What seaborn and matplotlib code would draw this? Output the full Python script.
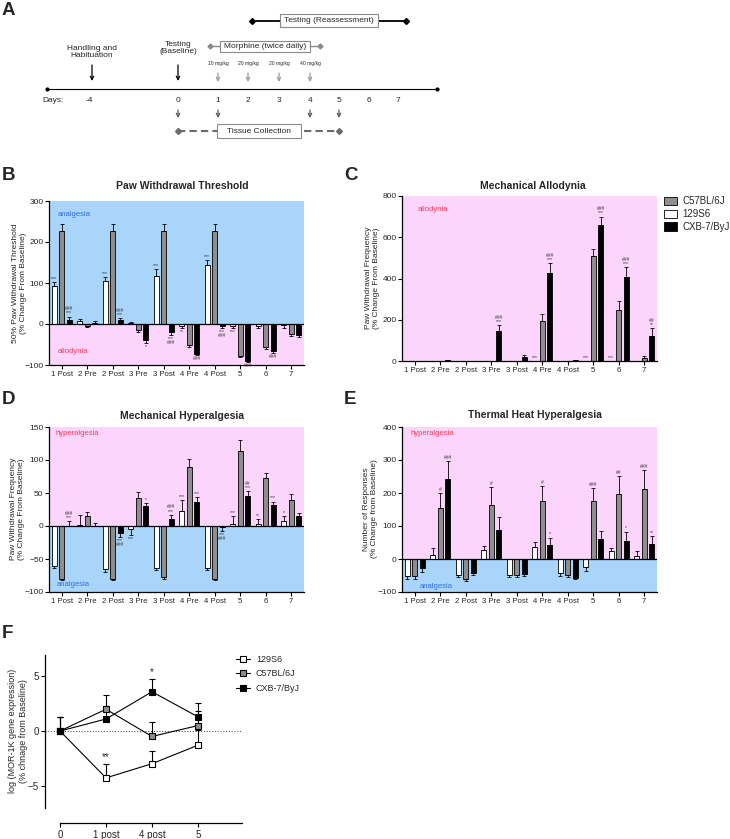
import numpy as np
import pandas as pd
import matplotlib
matplotlib.use("Agg")
import matplotlib.pyplot as plt
from matplotlib.patches import Patch, Rectangle
import seaborn as sns

sns.set_theme(style="ticks")
plt.rcParams["font.family"] = ["Liberation Sans", "DejaVu Sans"]

W, H = 730, 839

# ---------------- data ----------------
groups = ["1 Post", "2 Pre", "2 Post", "3 Pre", "3 Post", "4 Pre", "4 Post", "5", "6", "7"]
strains = ["129S6", "C57BL/6J", "CXB-7/ByJ"]
strain_colors = {"129S6": "white", "C57BL/6J": "#8e8e8e", "CXB-7/ByJ": "black"}

# B - paw withdrawal threshold
pwt_129 = [93, 7, 104, 2, 118, -5, 143, -5, -5, -3]
pwt_c57 = [228, -5, 228, -15, 228, -52, 228, -78, -57, -25]
pwt_cxb = [10, 3, 10, -40, -20, -72, -5, -90, -67, -27]
pwt_129_err = [10, 6, 10, 2, 15, 5, 12, 5, 5, 6]
pwt_c57_err = [15, 3, 15, 5, 15, 4, 15, 3, 4, 4]
pwt_cxb_err = [8, 4, 4, 7, 6, 3, 5, 3, 4, 4]

# C - mechanical allodynia
ma_129 = [0, 0, 0, 0, 0, 0, 0, 0, 0, 0]
ma_c57 = [0, 0, 0, 0, 0, 195, 0, 510, 248, 15]
ma_cxb = [0, 3, 0, 145, 20, 425, 3, 660, 405, 120]
ma_129_err = [0, 0, 0, 0, 0, 0, 0, 0, 0, 0]
ma_c57_err = [0, 0, 0, 0, 0, 32, 0, 35, 45, 8]
ma_cxb_err = [0, 2, 0, 30, 8, 50, 2, 40, 50, 40]

# D - mechanical hyperalgesia
mh_129 = [-60, 1, -65, -5, -63, 23, -63, 3, 3, 7]
mh_c57 = [-80, 15, -80, 43, -77, 90, -80, 113, 72, 40]
mh_cxb = [0, 0, -10, 30, 10, 37, -2, 46, 32, 15]
mh_129_err = [4, 16, 4, 8, 4, 16, 4, 12, 8, 8]
mh_c57_err = [2, 6, 2, 8, 3, 12, 2, 17, 8, 8]
mh_cxb_err = [7, 5, 6, 5, 7, 7, 5, 7, 5, 5]

# E - thermal heat hyperalgesia
th_129 = [-52, 12, -48, 27, -48, 35, -42, -25, 24, 9]
th_c57 = [-52, 155, -60, 163, -48, 177, -47, 176, 197, 212]
th_cxb = [-28, 242, -42, 88, -45, 42, -58, 61, 55, 45]
th_129_err = [8, 20, 8, 12, 8, 18, 8, 10, 10, 14]
th_c57_err = [8, 45, 8, 55, 8, 45, 8, 40, 55, 58]
th_cxb_err = [10, 55, 6, 38, 6, 23, 3, 25, 28, 25]

# significance marks: (group index, strain index, text)
notes_B = [(0, 0, "***"), (0, 2, "###\n***"), (2, 0, "***"), (2, 2, "###\n***"), (3, 2, "*"),
           (4, 0, "***"), (4, 2, "***\n###"), (5, 0, "**"), (5, 2, "###"), (6, 0, "***"),
           (6, 2, "***\n###"), (7, 0, "***"), (7, 2, "###"), (8, 2, "###")]
notes_C = [(3, 2, "###\n***"), (5, 0, "***"), (5, 2, "###\n***"), (7, 0, "***"), (7, 2, "###\n***"),
           (8, 0, "***"), (8, 2, "###\n***"), (9, 2, "##\n**")]
notes_D = [(0, 2, "###\n***"), (2, 2, "***\n###"), (3, 0, "***"), (3, 2, "*"), (4, 2, "###\n***"),
           (5, 0, "***"), (5, 2, "***"), (6, 2, "***\n###"), (7, 0, "***"), (7, 2, "##\n***"),
           (8, 0, "**"), (8, 2, "***"), (9, 0, "*")]
notes_E = [(1, 1, "#"), (1, 2, "###"), (3, 1, "#"), (5, 1, "#"), (5, 2, "*"), (7, 1, "###"),
           (8, 1, "##"), (8, 2, "*"), (9, 1, "###"), (9, 2, "**")]

# F - MOR-1K expression
f_days = ["0", "1 post", "4 post", "5"]
f_129 = [0, -4.3, -3.0, -1.3]
f_c57 = [0, 2.0, -0.5, 0.5]
f_cxb = [0, 1.1, 3.6, 1.3]
f_129_err = [1.3, 1.3, 1.2, 1.4]
f_c57_err = [1.3, 1.3, 1.3, 1.3]
f_cxb_err = [1.3, 1.2, 1.2, 1.3]

# timeline
day_labels = ["-4", "0", "1", "2", "3", "4", "5", "6", "7"]
doses = ["10 mg/kg", "20 mg/kg", "20 mg/kg", "40 mg/kg"]

BLUE = "#a9d5fa"
PINK = "#fcd5fc"
BLUE_TXT = "#2f6fe0"
RED_TXT = "#f0405a"

fig = plt.figure(figsize=(W / 100, H / 100), dpi=100)


def px_box(left, top, right, bottom):
    return [left / W, 1 - bottom / H, (right - left) / W, (bottom - top) / H]


def fig_text(x, y, s, **kw):
    fig.text(x / W, 1 - y / H, s, **kw)


# ---------------- A: timeline ----------------
axA = fig.add_axes([0, 1 - 165 / H, 1, 165 / H])
axA.set_xlim(0, W)
axA.set_ylim(165, 0)
axA.axis("off")

day_px = [89, 178, 218, 248, 279, 310, 339, 369, 398]
axA.plot([47, 437], [89, 89], color="black", lw=0.8, marker="o", ms=2, mfc="black")
axA.text(42, 100, "Days:", ha="left", va="center", fontsize=6)
for x, lab in zip(day_px, day_labels):
    axA.text(x, 100, lab, ha="center", va="center", fontsize=6)


def arrow(x, y0, y1, color):
    axA.annotate("", xy=(x, y1), xytext=(x, y0),
                 arrowprops=dict(arrowstyle="->", color=color, lw=0.9,
                                 shrinkA=0, shrinkB=0, mutation_scale=6))


def label_box(x0, y0, x1, y1, text):
    axA.add_patch(Rectangle((x0, y0), x1 - x0, y1 - y0, facecolor="white",
                            edgecolor="#8a8a8a", lw=0.8, zorder=3))
    axA.text((x0 + x1) / 2, (y0 + y1) / 2 + 0.5, text, ha="center", va="center",
             fontsize=6, zorder=4)


axA.text(92, 52, "Handling and\nHabituation", ha="center", va="center", fontsize=6, linespacing=1.1)
axA.text(178, 48, "Testing\n(Baseline)", ha="center", va="center", fontsize=6, linespacing=1.1)
arrow(92, 65, 81, "black")
arrow(178, 65, 81, "black")

# morphine
axA.plot([210, 320], [46, 46], color="#8a8a8a", lw=1.0, marker="D", ms=2.5)
label_box(220, 41, 310, 52, "Morphine (twice daily)")
for x, d in zip(day_px[2:6], doses):
    axA.text(x, 63, d, ha="center", va="center", fontsize=3.6)
    arrow(x, 73, 82, "#9a9a9a")

# reassessment
axA.plot([252, 406], [21, 21], color="black", lw=1.3, marker="D", ms=3)
label_box(280, 14, 378, 27, "Testing (Reassessment)")

# tissue collection
for x in [day_px[1], day_px[2], day_px[5], day_px[6]]:
    arrow(x, 110, 118, "#555555")
axA.plot([178, 339], [131, 131], color="#6a6a6a", lw=1.5, ls=(0, (3.5, 2)), marker="D", ms=3)
label_box(217, 124, 301, 138, "Tissue Collection")


# ---------------- B-E: bar panels ----------------
def bar_panel(rect, vals, errs, ylim, ystep, bands, notes, tags):
    ax = fig.add_axes(rect)
    df = pd.DataFrame({"group": np.tile(groups, len(strains)),
                       "strain": np.repeat(strains, len(groups)),
                       "value": np.concatenate(vals)})
    sns.barplot(data=df, x="group", y="value", hue="strain", order=groups, hue_order=strains,
                palette=strain_colors, saturation=1, width=0.88, gap=0.3,
                edgecolor="black", linewidth=0.6, errorbar=None, legend=False,
                ax=ax, zorder=2)
    for y0, y1, c in bands:
        ax.axhspan(y0, y1, color=c, lw=0, zorder=0)
    for cont, ev in zip(ax.containers, errs):
        for bar, e in zip(cont, ev):
            x = bar.get_x() + bar.get_width() / 2
            y = bar.get_height()
            if e <= 0:
                continue
            yerr = [[0], [e]] if y >= 0 else [[e], [0]]
            ax.errorbar([x], [y], yerr=yerr, fmt="none", ecolor="black",
                        elinewidth=0.6, capsize=1.7, capthick=0.6, zorder=2.5)
    for g, s, txt in notes:
        bar = ax.containers[s][g]
        x = bar.get_x() + bar.get_width() / 2
        y = bar.get_height()
        e = errs[s][g]
        if y >= 0:
            ax.annotate(txt, (x, y + e), xytext=(0, 0.8), textcoords="offset points",
                        ha="center", va="bottom", fontsize=3.6, color="#333333",
                        linespacing=0.8, zorder=4)
        else:
            ax.annotate(txt, (x, y - e), xytext=(0, -0.8), textcoords="offset points",
                        ha="center", va="top", fontsize=3.6, color="#333333",
                        linespacing=0.8, zorder=4)
    for x, y, txt, c in tags:
        ax.text(x, y, txt, ha="left", va="center", fontsize=5.5, color=c, zorder=4)
    if ylim[0] < 0:
        ax.axhline(0, color="black", lw=0.9, zorder=3)
    ax.set_xlim(-0.5, len(groups) - 0.5)
    ax.set_ylim(ylim)
    ax.set_yticks(np.arange(ylim[0], ylim[1] + 1, ystep))
    ax.set_xlabel("")
    ax.set_ylabel("")
    for side in ("top", "right"):
        ax.spines[side].set_visible(False)
    for side in ("left", "bottom"):
        ax.spines[side].set_linewidth(0.9)
        ax.spines[side].set_color("black")
    ax.tick_params(axis="both", direction="out", length=3, width=0.8, color="black", pad=1)
    ax.tick_params(axis="x", labelsize=5.6)
    ax.tick_params(axis="y", labelsize=6)
    return ax


axB = bar_panel(px_box(49, 201, 304, 365),
                [pwt_129, pwt_c57, pwt_cxb], [pwt_129_err, pwt_c57_err, pwt_cxb_err],
                (-100, 300), 100, [(0, 300, BLUE), (-100, 0, PINK)], notes_B,
                [(-0.15, 268, "analgesia", BLUE_TXT), (-0.15, -68, "allodynia", RED_TXT)])
axC = bar_panel(px_box(402, 196, 657, 361),
                [ma_129, ma_c57, ma_cxb], [ma_129_err, ma_c57_err, ma_cxb_err],
                (0, 800), 200, [(0, 800, PINK)], notes_C,
                [(0.1, 733, "allodynia", RED_TXT)])
axD = bar_panel(px_box(49, 427, 304, 592),
                [mh_129, mh_c57, mh_cxb], [mh_129_err, mh_c57_err, mh_cxb_err],
                (-100, 150), 50, [(0, 150, PINK), (-100, 0, BLUE)], notes_D,
                [(-0.26, 140, "hyperalgesia", RED_TXT), (-0.2, -89, "analgesia", BLUE_TXT)])
axE = bar_panel(px_box(402, 427, 657, 592),
                [th_129, th_c57, th_cxb], [th_129_err, th_c57_err, th_cxb_err],
                (-100, 400), 100, [(0, 400, PINK), (-100, 0, BLUE)], notes_E,
                [(-0.15, 380, "hyperalgesia", RED_TXT), (0.2, -82, "analgesia", BLUE_TXT)])

fig_text(182, 186, "Paw Withdrawal Threshold", ha="center", va="center", fontsize=7.5, fontweight="bold")
fig_text(533, 186, "Mechanical Allodynia", ha="center", va="center", fontsize=7.5, fontweight="bold")
fig_text(182, 416, "Mechanical Hyperalgesia", ha="center", va="center", fontsize=7.5, fontweight="bold")
fig_text(535, 415, "Thermal Heat Hyperalgesia", ha="center", va="center", fontsize=7.5, fontweight="bold")

fig_text(20, 283, "50% Paw Withdrawal Threshold\n(% Change From Baseline)", ha="center", va="center",
         rotation=90, fontsize=6, linespacing=1.2)
fig_text(373, 278, "Paw Withdrawal Frequency\n(% Change From Baseline)", ha="center", va="center",
         rotation=90, fontsize=6, linespacing=1.2)
fig_text(18, 509, "Paw Withdrawal Frequency\n(% Change From Baseline)", ha="center", va="center",
         rotation=90, fontsize=6, linespacing=1.2)
fig_text(371, 509, "Number of Responses\n(% Change from Baseline)", ha="center", va="center",
         rotation=90, fontsize=6, linespacing=1.2)

legend_order = ["C57BL/6J", "129S6", "CXB-7/ByJ"]
handles = [Patch(facecolor=strain_colors[s], edgecolor="black", lw=0.6) for s in legend_order]
fig.legend(handles, legend_order, loc="upper left", bbox_to_anchor=(664 / W, 1 - 196 / H),
           frameon=False, fontsize=7, handlelength=1.3, handleheight=0.9, labelspacing=0.3,
           handletextpad=0.6, borderaxespad=0, borderpad=0)

# ---------------- F: line plot ----------------
axF = fig.add_axes(px_box(45, 655, 242, 808))
f_pos = np.arange(len(f_days))
f_series = [("129S6", f_129, f_129_err, "white"),
            ("C57BL/6J", f_c57, f_c57_err, "#8e8e8e"),
            ("CXB-7/ByJ", f_cxb, f_cxb_err, "black")]
axF.axhline(0, color="#555555", lw=0.8, ls=(0, (1, 1.5)), zorder=1)
for name, vals, errs, fc in f_series:
    axF.errorbar(f_pos, vals, yerr=[np.zeros(len(errs)), errs], fmt="none", ecolor="black",
                 elinewidth=0.8, capsize=2.2, capthick=0.8, zorder=2)
    sns.lineplot(x=f_pos, y=vals, color="black", lw=0.8, marker="s", markersize=4,
                 markerfacecolor=fc, markeredgecolor="black", markeredgewidth=0.8,
                 label=name, legend=False, ax=axF, zorder=3)
axF.annotate("**", (1, f_129[1] + f_129_err[1]), xytext=(0, 1), textcoords="offset points",
             ha="center", va="bottom", fontsize=7)
axF.annotate("*", (2, f_cxb[2] + f_cxb_err[2]), xytext=(0, 1), textcoords="offset points",
             ha="center", va="bottom", fontsize=7)
axF.set_xlim(-0.326, 3.957)
axF.set_ylim(-7.06, 6.97)
axF.set_yticks([-5, 0, 5])
axF.set_xticks(f_pos)
axF.set_xticklabels(f_days)
axF.set_xlabel("")
axF.set_ylabel("")
for side in ("top", "right"):
    axF.spines[side].set_visible(False)
for side in ("left", "bottom"):
    axF.spines[side].set_linewidth(0.9)
    axF.spines[side].set_color("black")
axF.spines["bottom"].set_position(("outward", 11))
axF.spines["bottom"].set_bounds(0, 3.957)
axF.tick_params(axis="both", direction="out", length=3, width=0.8, color="black",
                pad=1.5, labelsize=7)
fig_text(18, 731, "log (MOR-1K gene expression)\n(% chnage from Baseline)", ha="center",
         va="center", rotation=90, fontsize=6.5, linespacing=1.2)
fh, fl = axF.get_legend_handles_labels()
fig.legend(fh, fl, loc="upper left", bbox_to_anchor=(236 / W, 1 - 655 / H), frameon=False,
           fontsize=6.5, handlelength=1.6, labelspacing=0.6, handletextpad=0.6,
           borderaxespad=0, borderpad=0)

# panel letters
for lab, x, y in [("A", 2, 2), ("B", 2, 167), ("C", 344, 167), ("D", 2, 391), ("E", 344, 391),
                  ("F", 2, 625)]:
    fig_text(x, y, lab, ha="left", va="top", fontsize=13.5, fontweight="bold")

fig.savefig("out.png", dpi=100)
